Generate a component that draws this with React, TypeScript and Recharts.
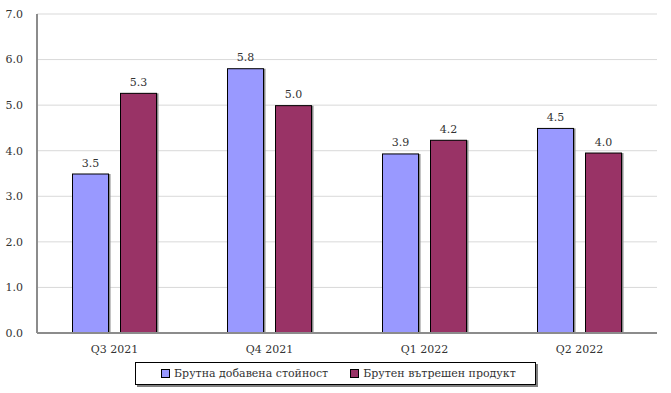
import React from 'react';
import { BarChart, Bar, XAxis, YAxis, CartesianGrid, LabelList, Legend } from 'recharts';

const categories = ['Q3 2021', 'Q4 2021', 'Q1 2022', 'Q2 2022'];
const gvaValues = [3.5, 5.81, 3.94, 4.5];
const gdpValues = [5.27, 5.0, 4.24, 3.96];
const yTicks = [0, 1, 2, 3, 4, 5, 6, 7];
const seriesNames = ['Брутна добавена стойност', 'Брутен вътрешен продукт'];
const seriesColors = ['#9999FF', '#993366'];

const data = categories.map((c, i) => ({ name: c, gva: gvaValues[i], gdp: gdpValues[i] }));

const FONT = 'DejaVu Serif';
const FS = 11;
const TXT = '#333';

const ShadowBar = (props: any) => {
  const { x, y, width, height, fill } = props;
  if (height <= 0) return null;
  return (
    <g>
      <rect x={x + 1.5} y={y + 0.5} width={width} height={height} fill="#8a8a8a" />
      <rect x={x + 0.5} y={y + 0.5} width={width - 1} height={height - 1} fill={fill} stroke="#000" strokeWidth={1} />
    </g>
  );
};

const LegendBox = () => (
  <div
    style={{
      width: 399,
      height: 21,
      border: '1px solid #000',
      boxShadow: '2px 2px 0 #808080',
      background: '#fff',
      display: 'flex',
      alignItems: 'center',
      fontFamily: FONT,
      fontSize: FS,
      color: TXT,
      boxSizing: 'content-box',
      whiteSpace: 'nowrap',
    }}
  >
    {seriesNames.map((n, i) => (
      <div key={n} style={{ display: 'flex', alignItems: 'center', marginLeft: i === 0 ? 25 : 22 }}>
        <span
          style={{
            display: 'inline-block',
            width: 7,
            height: 7,
            background: seriesColors[i],
            border: '1px solid #000',
            marginRight: 4,
          }}
        />
        <span>{n}</span>
      </div>
    ))}
  </div>
);

export default function App() {
  return (
    <div style={{ position: 'absolute', left: 0, top: 0, width: 671, height: 393, background: '#fff' }}>
      <BarChart
        width={671}
        height={393}
        data={data}
        margin={{ top: 14, right: 14, bottom: 0, left: 0 }}
        barSize={37}
        barGap={11}
        style={{ fontFamily: FONT }}
      >
        <CartesianGrid vertical={false} stroke="#d9d9d9" strokeWidth={1} />
        <XAxis
          dataKey="name"
          height={60}
          tickLine={false}
          tickMargin={6}
          axisLine={{ stroke: '#8c8c8c', strokeWidth: 2 }}
          tick={{ fontFamily: FONT, fontSize: FS, fill: TXT }}
        />
        <YAxis
          width={37}
          domain={[0, 7]}
          ticks={yTicks}
          interval={0}
          tickLine={false}
          tickMargin={8}
          axisLine={{ stroke: '#8c8c8c', strokeWidth: 2 }}
          tickFormatter={(v: number) => v.toFixed(1)}
          tick={{ fontFamily: FONT, fontSize: FS, fill: TXT }}
        />
        <Legend
          layout="horizontal"
          verticalAlign="middle"
          align="center"
          content={<LegendBox />}
          wrapperStyle={{ position: 'absolute', left: 135, top: 362, width: 402, height: 24 }}
        />
        <Bar dataKey="gva" name={seriesNames[0]} fill={seriesColors[0]} shape={<ShadowBar />} isAnimationActive={false}>
          <LabelList
            dataKey="gva"
            position="top"
            offset={7}
            formatter={(v: any) => Number(v).toFixed(1)}
            style={{ fontFamily: FONT, fontSize: FS, fill: TXT }}
          />
        </Bar>
        <Bar dataKey="gdp" name={seriesNames[1]} fill={seriesColors[1]} shape={<ShadowBar />} isAnimationActive={false}>
          <LabelList
            dataKey="gdp"
            position="top"
            offset={7}
            formatter={(v: any) => Number(v).toFixed(1)}
            style={{ fontFamily: FONT, fontSize: FS, fill: TXT }}
          />
        </Bar>
      </BarChart>
    </div>
  );
}
